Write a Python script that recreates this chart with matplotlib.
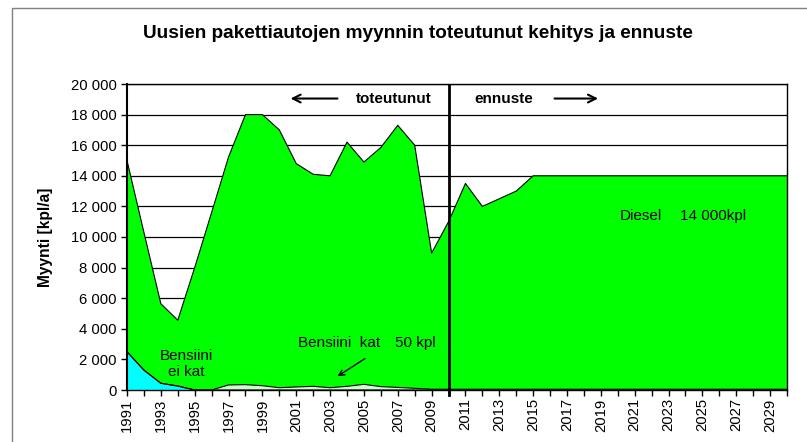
import matplotlib
matplotlib.use("Agg")

import numpy as np
import matplotlib.pyplot as plt
from matplotlib.patches import Rectangle

# -----------------------------
# DATA
# -----------------------------

years = list(range(1991, 2031))

# bensiini ilman katalysaattoria
bensiini_ei_kat = [2500, 1300, 440, 260, 0] + [0] * 35

# bensiini katalysaattorilla
bensiini_kat = [0, 0, 0, 0, 0,
                0, 330, 350, 280, 150, 200, 240, 150, 240, 370,
                220, 170, 110, 50, 50] + [50] * 20

# diesel (pinottu ylimmaksi)
diesel = [12500, 9000, 5200, 4300, 8000,
          11600, 14900, 17650, 17720, 16850, 14600, 13860, 13850, 15960, 14530,
          15630, 17130, 15890, 8900, 10950, 13450, 11950, 12450, 12950] + [13950] * 16

y_ticks = list(range(0, 20001, 2000))
y_tick_labels = ["0" if v == 0 else f"{v // 1000} 000" for v in y_ticks]

TITLE = "Uusien pakettiautojen myynnin toteutunut kehitys ja ennuste"
Y_LABEL = "Myynti [kpl/a]"

# -----------------------------
# PIIRTO
# -----------------------------

plt.rcParams["font.family"] = ["Liberation Sans", "DejaVu Sans"]

FS = 10.7

fig = plt.figure(figsize=(8.07, 4.42), dpi=100, facecolor="white")

# kehys
fig.patches.append(Rectangle(
    (12 / 807, -0.1), 1.2, 1 - 8 / 442 + 0.1,
    transform=fig.transFigure, fill=False,
    edgecolor="#808080", linewidth=1.0
))

ax = fig.add_axes([127 / 807, 1 - 390 / 442, 660 / 807, 306 / 442])

x = np.array(years)
y1 = np.array(bensiini_ei_kat)
y2 = y1 + np.array(bensiini_kat)
y3 = y2 + np.array(diesel)

ax.fill_between(x, 0, y1, facecolor="#00FFFF", edgecolor="none", zorder=2)
ax.fill_between(x, y1, y2, facecolor="#CCFFCC", edgecolor="none", zorder=2)
ax.fill_between(x, y2, y3, facecolor="#00FF00", edgecolor="none", zorder=2)

for yy in (y1, y2, y3):
    ax.plot(x, yy, color="black", linewidth=0.8, zorder=3)

ax.set_xlim(1991, 2030)
ax.set_ylim(0, 20000)

for v in y_ticks[1:]:
    ax.axhline(v, color="black", linewidth=0.9, zorder=1)

ax.axvline(2010, color="black", linewidth=2.0, zorder=4)
ax.plot([2010, 2010], [0, -300], color="black", linewidth=2.0,
        clip_on=False, zorder=4)

ax.set_yticks(y_ticks)
ax.set_yticklabels(y_tick_labels, fontsize=FS)

ax.set_xticks(years, minor=True)
ax.set_xticks(years[::2])
ax.set_xticklabels([str(v) for v in years[::2]], rotation=90, fontsize=FS)

ax.tick_params(axis="both", which="both", direction="out", length=4,
               width=1.0, color="black")
ax.tick_params(axis="x", which="major", pad=2)

for side in ["left", "right", "top", "bottom"]:
    ax.spines[side].set_color("black")
    ax.spines[side].set_linewidth(1.0)
ax.spines["left"].set_linewidth(1.5)

ax.set_ylabel(Y_LABEL, fontsize=11.2, fontweight="bold")
ax.yaxis.set_label_coords(-0.112, 0.5)

fig.text(418 / 807, 1 - 33 / 442, TITLE, fontsize=13.7, fontweight="bold",
         ha="center", va="center")

# tekstit ja nuolet
ax.text(2004.5, 19050, "toteutunut", fontsize=11, fontweight="bold",
        ha="left", va="center", zorder=5)
ax.annotate("", xy=(2000.5, 19050), xytext=(2003.6, 19050),
            arrowprops=dict(arrowstyle="->", color="black", lw=1.5,
                            mutation_scale=14), zorder=5)

ax.text(2011.5, 19050, "ennuste", fontsize=11, fontweight="bold",
        ha="left", va="center", zorder=5)
ax.annotate("", xy=(2019.0, 19050), xytext=(2016.1, 19050),
            arrowprops=dict(arrowstyle="->", color="black", lw=1.5,
                            mutation_scale=14), zorder=5)

ax.text(2020.1, 11400, "Diesel", fontsize=11, ha="left", va="center",
        zorder=5)
ax.text(2023.7, 11400, "14 000kpl", fontsize=11, ha="left", va="center",
        zorder=5)

ax.text(1994.5, 1700, "Bensiini\nei kat", fontsize=11, ha="center",
        va="center", linespacing=1.1, zorder=5)

ax.text(2001.1, 3070, "Bensiini  kat", fontsize=11, ha="left",
        va="center", zorder=5)
ax.text(2006.85, 3070, "50 kpl", fontsize=11, ha="left", va="center",
        zorder=5)
ax.annotate("", xy=(2003.3, 800), xytext=(2005.2, 2150),
            arrowprops=dict(arrowstyle="->", color="black", lw=1.0,
                            mutation_scale=10), zorder=5)

fig.savefig("out.png", dpi=100, facecolor="white")
plt.close(fig)
